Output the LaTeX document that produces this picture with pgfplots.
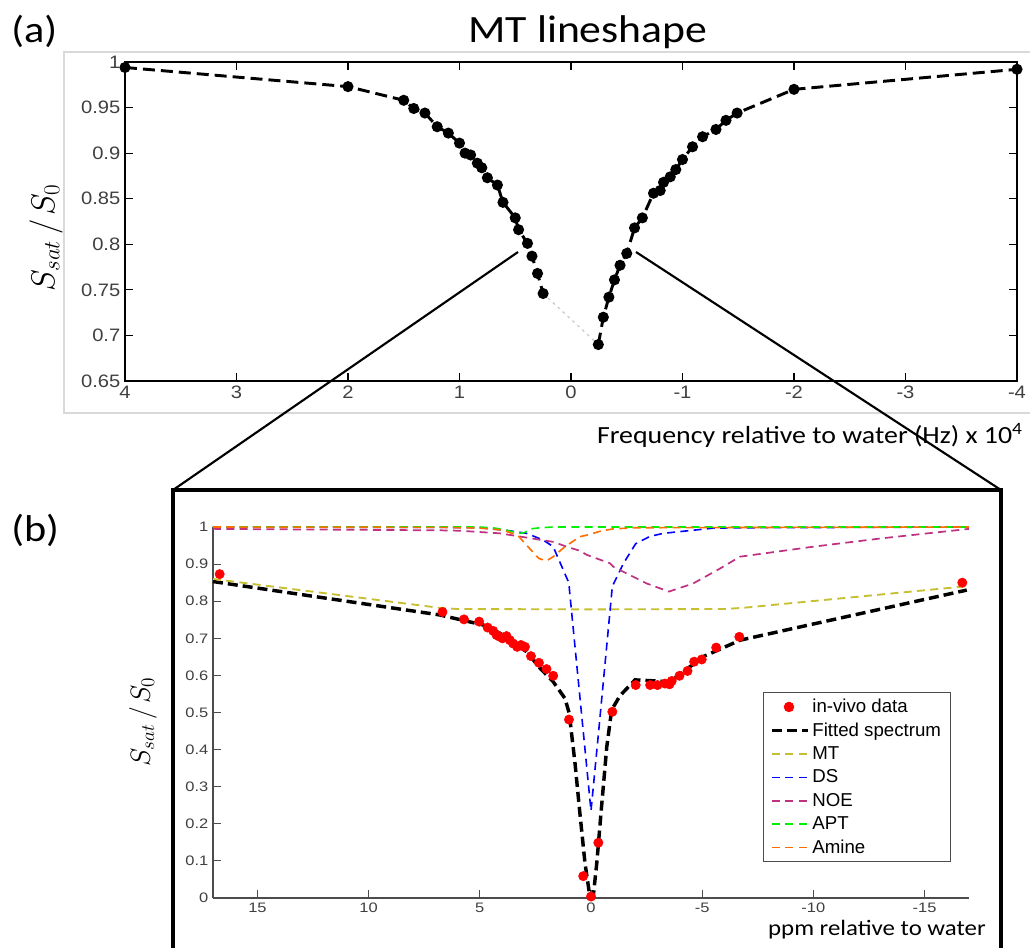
\documentclass[border=0pt]{standalone}
\usepackage{pgfplots}
\pgfplotsset{compat=1.18}
\usepackage{fontspec}
\setmainfont[FakeStretch=1.13]{Carlito}
\newfontfamily\tickfont[FakeStretch=1.12]{Liberation Sans}
\newfontfamily\tickfontb[FakeStretch=1.2]{Liberation Sans}
\newfontfamily\legfont{Liberation Sans}
\pgfplotsset{
  linelegend/.style={legend image code/.code={\draw[##1] (0cm,0cm) -- (0.95cm,0cm);}},
  dotlegend/.style={legend image code/.code={\draw[##1] plot coordinates {(0.45cm,0cm)};}},
  collegend/.style={legend image code/.code={\draw[##1, draw=#1] (0cm,0cm) -- (0.95cm,0cm);}},
}
\begin{document}
\begin{tikzpicture}
\useasboundingbox (0,0) rectangle (772.5pt,-710.25pt);
\begin{scope}[x=0.75pt,y=-0.75pt]
  \draw[black!15, line width=0.8pt] (1032,52) -- (64,52) -- (64,413) -- (1032,413);
\end{scope}

% ---------------- (a) MT lineshape ----------------
\begin{axis}[
  at={(93.75pt,-285.75pt)}, anchor=south west,
  scale only axis, width=669pt, height=239.25pt,
  xmin=-4, xmax=4, ymin=0.65, ymax=1, x dir=reverse,
  xtick={-4,-3,-2,-1,0,1,2,3,4},
  xticklabels={-4,-3,-2,-1,0,1,2,3,4},
  ytick={0.65,0.7,0.75,0.8,0.85,0.9,0.95,1},
  yticklabels={0.65,0.7,0.75,0.8,0.85,0.9,0.95,1},
  tick align=inside, major tick length=6pt,
  tick style={black, line width=0.8pt},
  axis line style={black, line width=1pt},
  tick label style={font=\fontsize{13.5}{15}\tickfont, text=black!75},
  clip=false,
]
\addplot[black!20, line width=1pt, dash pattern=on 2pt off 3pt] coordinates {(0.25,0.746) (-0.245,0.690)};
\addplot[black, line width=2.2pt, dash pattern=on 9pt off 4.5pt, mark=*, mark size=3pt, mark options={solid}] coordinates {
(4,0.994) (2,0.973) (1.5,0.958) (1.41,0.949) (1.31,0.944) (1.2,0.929) (1.1,0.922) (1.0,0.911)
(0.95,0.900) (0.9,0.898) (0.84,0.889) (0.8,0.884) (0.75,0.873) (0.66,0.865) (0.61,0.846)
(0.5,0.829) (0.47,0.816) (0.39,0.801) (0.35,0.787) (0.30,0.768) (0.25,0.746)};
\addplot[black, line width=2.2pt, dash pattern=on 9pt off 4.5pt, mark=*, mark size=3pt, mark options={solid}] coordinates {
(-0.245,0.690) (-0.29,0.720) (-0.34,0.742) (-0.39,0.761) (-0.44,0.777) (-0.50,0.790) (-0.57,0.818)
(-0.64,0.829) (-0.74,0.856) (-0.80,0.859) (-0.83,0.868) (-0.89,0.874) (-0.94,0.882) (-1.0,0.893)
(-1.09,0.907) (-1.18,0.918) (-1.30,0.926) (-1.39,0.936) (-1.49,0.944) (-2.0,0.970) (-4,0.992)};
\end{axis}

% ---------------- (b) Z-spectrum ----------------
\begin{axis}[
  at={(159.75pt,-673.5pt)}, anchor=south west,
  scale only axis, width=567pt, height=278.25pt,
  xmin=-17, xmax=17, ymin=0, ymax=1, x dir=reverse,
  axis x line*=bottom, axis y line*=left,
  axis line style={-, black!70, line width=0.8pt},
  tick align=inside, major tick length=6pt,
  tick style={black!70, line width=0.8pt},
  xtick={-15,-10,-5,0,5,10,15},
  xticklabels={-15,-10,-5,0,5,10,15},
  ytick={0,0.1,0.2,0.3,0.4,0.5,0.6,0.7,0.8,0.9,1},
  yticklabels={0,0.1,0.2,0.3,0.4,0.5,0.6,0.7,0.8,0.9,1},
  tick label style={font=\fontsize{10.3}{12}\tickfontb, text=black!75},
  clip=false,
  legend style={at={(0.7275,0.5553)}, anchor=north west, draw=black!70, line width=0.8pt,
    font=\fontsize{14}{16}\legfont, row sep=2.2pt, inner xsep=5pt, inner ysep=3pt},
  legend cell align=left,
  linelegend,
]
\addplot[only marks, mark=*, mark size=3.5pt, color=red, draw=red, fill=red, dotlegend] coordinates {
(16.7,0.873) (6.68,0.771) (5.71,0.751) (5.03,0.745) (4.65,0.729) (4.40,0.720) (4.25,0.709)
(4.13,0.705) (3.98,0.700) (3.80,0.706) (3.65,0.695) (3.50,0.686) (3.32,0.677) (3.15,0.682)
(2.97,0.677) (2.70,0.652) (2.34,0.634) (2.0,0.617) (1.70,0.599) (0.99,0.481) (0.35,0.059)
(0,0.004) (-0.33,0.149) (-0.96,0.502) (-2.01,0.574) (-2.66,0.574) (-2.99,0.574) (-3.33,0.578)
(-3.53,0.576) (-3.63,0.585) (-3.98,0.599) (-4.34,0.612) (-4.64,0.637) (-4.98,0.643)
(-5.63,0.675) (-6.67,0.704) (-16.7,0.850)};
\addlegendentry{in-vivo data}
\addplot[color=black, draw=black, line width=2.6pt, dash pattern=on 7.5pt off 3.75pt] coordinates {
(17,0.853) (6.8,0.763) (4.85,0.736) (4.1,0.714) (3.35,0.682) (2.9,0.664) (2.3,0.620) (1.7,0.583)
(1.17,0.538) (0.98,0.498) (0.72,0.364) (0.5,0.229) (0.27,0.094) (0.05,0.004) (-0.1,0.004)
(-0.26,0.094) (-0.45,0.229) (-0.71,0.408) (-0.93,0.507) (-1.3,0.545) (-1.98,0.588) (-3.56,0.583)
(-5.06,0.651) (-6.71,0.695) (-16.9,0.830)};
\addlegendentry{Fitted spectrum}
\addplot[color=yellow!75!black, line width=1.4pt, dash pattern=on 6pt off 4pt, collegend=yellow!75!black] coordinates {
(17,0.860) (6.8,0.782) (6.0,0.779) (0,0.778) (-6.0,0.779) (-6.8,0.782) (-17,0.841)};
\addlegendentry{MT}
\addplot[color=blue, line width=1.2pt, dash pattern=on 6pt off 4pt, collegend=blue] coordinates {
(17,1.0) (6.7,0.999) (5,0.998) (3.8,0.991) (2.9,0.983) (2.15,0.965) (1.7,0.947) (1.0,0.850)
(0.35,0.45) (0,0.235) (-0.33,0.44) (-0.96,0.84) (-1.46,0.902) (-2.01,0.955) (-2.66,0.975)
(-3.26,0.983) (-5.5,0.997) (-6.7,0.998) (-17,1.0)};
\addlegendentry{DS}
\addplot[color=magenta!75!black, line width=1.3pt, dash pattern=on 6pt off 4pt, collegend=magenta!75!black] coordinates {
(17,0.995) (6.7,0.991) (5.9,0.990) (4.1,0.983) (1.7,0.960) (1.0,0.945) (0.5,0.936) (0.19,0.925)
(-0.86,0.902) (-1.0,0.893) (-2.5,0.848) (-3.5,0.826) (-4.6,0.848) (-5.8,0.888) (-6.7,0.920)
(-10,0.947) (-13,0.969) (-17,0.995)};
\addlegendentry{NOE}
\addplot[color=green!94!black, line width=1.2pt, dash pattern=on 6pt off 4pt, collegend=green!94!black] coordinates {
(17,1.0) (5,1.0) (4.3,0.997) (3.8,0.991) (3.2,0.983) (3.0,0.985) (2.7,0.995) (2.3,0.998)
(1.7,1.0) (-17,1.0)};
\addlegendentry{APT}
\addplot[color=orange!85!red, line width=1.2pt, dash pattern=on 6pt off 4pt, collegend=orange!85!red] coordinates {
(17,1.0) (6.7,0.999) (5,0.997) (4.0,0.992) (3.3,0.978) (2.9,0.951) (2.34,0.915) (2.0,0.909)
(1.7,0.92) (1.17,0.947) (0.5,0.974) (0.2,0.978) (-0.5,0.99) (-1.0,0.995) (-2.0,0.998) (-17,1.0)};
\addlegendentry{Amine}
\end{axis}

\begin{scope}[x=0.75pt,y=-0.75pt]
  % zoom connectors and frame
  \draw[black, line width=1.6pt] (518,252) -- (173,490);
  \draw[black, line width=1.6pt] (636,252) -- (1001,490);
  \draw[black, line width=2.6pt] (173,960) -- (173,490) -- (1001,490) -- (1001,960);
  % texts
  \node[anchor=base west, inner sep=0pt, font=\fontsize{28}{32}\selectfont] at (11,42) {(a)};
  \node[anchor=base west, inner sep=0pt, font=\fontsize{28}{32}\selectfont] at (11,541) {(b)};
  \node[anchor=base, inner sep=0pt, font=\fontsize{29}{33}\selectfont] at (588,42) {MT lineshape};
  \node[anchor=base east, inner sep=0pt, font=\fontsize{18.5}{21}\selectfont] at (1023,443) {Frequency relative to water (Hz) x 10\textsuperscript{4}};
  \node[anchor=base east, inner sep=0pt, font=\fontsize{16.5}{19}\selectfont] at (986,935) {ppm relative to water};
  \node[rotate=90, inner sep=0pt, font=\fontsize{24}{28}\selectfont] at (46,238) {$S_{sat}\mskip3mu/\mskip2mu S_0$};
  \node[rotate=90, inner sep=0pt, font=\fontsize{22}{26}\selectfont] at (143,722) {$S_{sat}\mskip3mu/\mskip2mu S_0$};
\end{scope}
\end{tikzpicture}
\end{document}
